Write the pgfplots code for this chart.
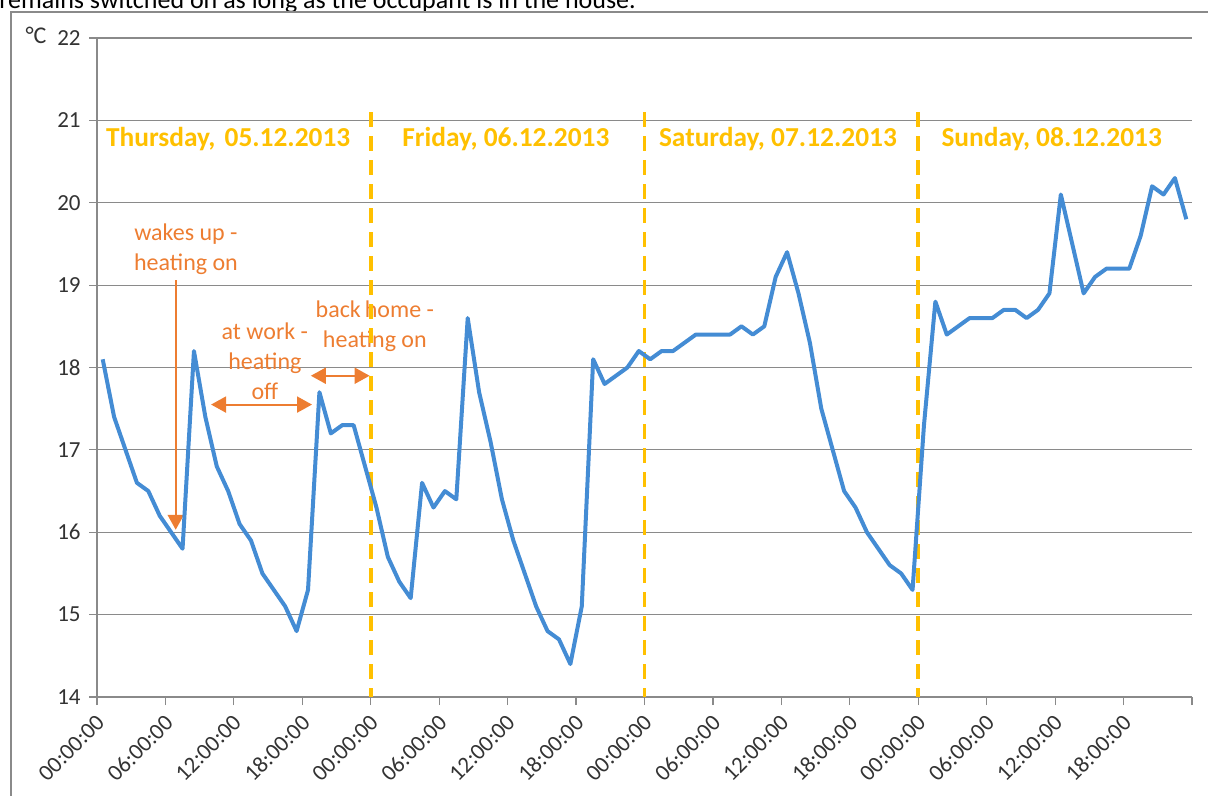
\documentclass[border=0pt]{standalone}
\usepackage{fontspec}
\setmainfont{Carlito}
\usepackage{pgfplots}
\pgfplotsset{compat=1.18}
\usetikzlibrary{arrows.meta}

\definecolor{tblue}{HTML}{448CD4}
\definecolor{dayline}{HTML}{FFC000}
\definecolor{annot}{HTML}{ED7D31}
\definecolor{gridc}{HTML}{8A8A8A}
\definecolor{ticktxt}{HTML}{333333}

% hourly room temperature, Thu 05.12.2013 - Sun 08.12.2013 (t in hours)
\pgfplotstableread{
t    temp
0.5  18.1
1.5  17.4
2.5  17.0
3.5  16.6
4.5  16.5
5.5  16.2
6.5  16.0
7.5  15.8
8.5  18.2
9.5  17.4
10.5 16.8
11.5 16.5
12.5 16.1
13.5 15.9
14.5 15.5
15.5 15.3
16.5 15.1
17.5 14.8
18.5 15.3
19.5 17.7
20.5 17.2
21.5 17.3
22.5 17.3
23.5 16.8
24.5 16.3
25.5 15.7
26.5 15.4
27.5 15.2
28.5 16.6
29.5 16.3
30.5 16.5
31.5 16.4
32.5 18.6
33.5 17.7
34.5 17.1
35.5 16.4
36.5 15.9
37.5 15.5
38.5 15.1
39.5 14.8
40.5 14.7
41.5 14.4
42.5 15.1
43.5 18.1
44.5 17.8
45.5 17.9
46.5 18.0
47.5 18.2
48.5 18.1
49.5 18.2
50.5 18.2
51.5 18.3
52.5 18.4
53.5 18.4
54.5 18.4
55.5 18.4
56.5 18.5
57.5 18.4
58.5 18.5
59.5 19.1
60.5 19.4
61.5 18.9
62.5 18.3
63.5 17.5
64.5 17.0
65.5 16.5
66.5 16.3
67.5 16.0
68.5 15.8
69.5 15.6
70.5 15.5
71.5 15.3
72.5 17.3
73.5 18.8
74.5 18.4
75.5 18.5
76.5 18.6
77.5 18.6
78.5 18.6
79.5 18.7
80.5 18.7
81.5 18.6
82.5 18.7
83.5 18.9
84.5 20.1
85.5 19.5
86.5 18.9
87.5 19.1
88.5 19.2
89.5 19.2
90.5 19.2
91.5 19.6
92.5 20.2
93.5 20.1
94.5 20.3
95.5 19.8
}\temps

\begin{document}
\begin{tikzpicture}
\path[use as bounding box] (0,0) rectangle (604pt,-398pt);
\clip (0,0) rectangle (604pt,-398pt);

% cut-off caption line and chart frame
\node[anchor=base west, inner sep=0pt, font=\fontsize{13}{15}\selectfont]
  at (-0.5pt,-4.4pt) {remains switched on as long as the occupant is in the house.};
\draw[gridc, line width=0.6pt] (5.5pt,-410pt) -- (5.5pt,-6pt) -- (620pt,-6pt);
\node[font=\fontsize{12}{14}\selectfont, text=ticktxt, inner sep=0pt] at (18pt,-17.5pt) {°C};

\begin{axis}[
  at={(48.5pt,-348.5pt)}, anchor=south west,
  scale only axis, width=547.5pt, height=329.5pt,
  xmin=0, xmax=96, ymin=14, ymax=22,
  axis x line*=bottom, axis y line*=left,
  axis line style={gridc, line width=0.6pt},
  xtick={0,6,...,96},
  xticklabels={00:00:00,06:00:00,12:00:00,18:00:00,
               00:00:00,06:00:00,12:00:00,18:00:00,
               00:00:00,06:00:00,12:00:00,18:00:00,
               00:00:00,06:00:00,12:00:00,18:00:00,{}},
  ytick={14,15,...,22},
  ymajorgrids, grid style={gridc, line width=0.6pt},
  tick align=outside, major tick length=4pt,
  tick style={gridc, line width=0.6pt},
  tick label style={font=\fontsize{11.5}{14}\selectfont, text=ticktxt},
  xticklabel style={anchor=north east, inner sep=0pt, xshift=-1pt, yshift=-4pt, rotate=45},
  yticklabel style={inner sep=0pt, xshift=-4pt},
  /pgf/number format/assume math mode=true,
  clip=false,
]
% day captions and annotations
\node[font=\fontsize{13.7}{16}\selectfont\bfseries, text=dayline, anchor=base] at (axis cs:11.5,20.68) {Thursday,\,\,05.12.2013};
\node[font=\fontsize{13.7}{16}\selectfont\bfseries, text=dayline, anchor=base] at (axis cs:35.85,20.68) {Friday, 06.12.2013};
\node[font=\fontsize{13.7}{16}\selectfont\bfseries, text=dayline, anchor=base] at (axis cs:59.7,20.68) {Saturday, 07.12.2013};
\node[font=\fontsize{13.7}{16}\selectfont\bfseries, text=dayline, anchor=base] at (axis cs:83.7,20.68) {Sunday, 08.12.2013};

\node[font=\fontsize{12}{15}\selectfont, text=annot, align=center] at (axis cs:7.8,19.43) {wakes up -\\heating on};
\node[font=\fontsize{12}{15}\selectfont, text=annot, align=center] at (axis cs:14.72,18.08) {at work -\\heating\\off};
\node[font=\fontsize{12}{15}\selectfont, text=annot, align=center] at (axis cs:24.36,18.505) {back\,home -\\heating on};

\draw[annot, line width=1pt, -{Triangle[width=8pt,length=7.5pt]}] (axis cs:6.9,19.06) -- (axis cs:6.9,16.03);
\draw[annot, line width=1pt, {Triangle[width=8pt,length=7.5pt]}-{Triangle[width=8pt,length=7.5pt]}] (axis cs:10.0,17.55) -- (axis cs:18.85,17.55);
\draw[annot, line width=1pt, {Triangle[width=8pt,length=7.5pt]}-{Triangle[width=8pt,length=7.5pt]}] (axis cs:18.75,17.9) -- (axis cs:23.9,17.9);

% day boundaries
\addplot[dayline, line width=1.8pt, dash pattern=on 7.5pt off 4.5pt] coordinates {(24,21.1) (24,14)};
\addplot[dayline, line width=1.8pt, dash pattern=on 7.5pt off 4.5pt] coordinates {(48,21.1) (48,14)};
\addplot[dayline, line width=1.8pt, dash pattern=on 7.5pt off 4.5pt] coordinates {(72,21.1) (72,14)};

\addplot[tblue, line width=2pt, line join=round, mark=none] table[x=t, y=temp] {\temps};
\end{axis}
\end{tikzpicture}
\end{document}
